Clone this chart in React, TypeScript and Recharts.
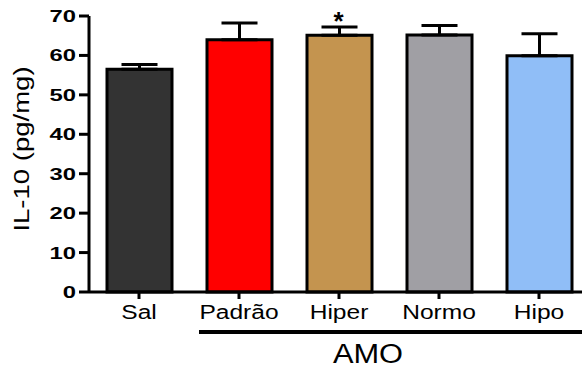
import { Bar, BarChart, Cell, ErrorBar, LabelList, XAxis, YAxis } from 'recharts';

const categories = ['Sal', 'Padrão', 'Hiper', 'Normo', 'Hipo'];
const means = [56.5, 64.0, 65.1, 65.2, 59.9];
const semUpper = [1.2, 4.2, 2.1, 2.4, 5.6];
const marks = ['', '', '*', '', ''];
const colors = ['#333333', '#ff0000', '#c4944f', '#a09fa4', '#90bef7'];
const yTicks = [0, 10, 20, 30, 40, 50, 60, 70];
const groupLabel = 'AMO';
const yLabel = 'IL-10 (pg/mg)';

const FONT = '"Liberation Sans", Arial, sans-serif';

const data = categories.map((name, i) => ({
  name,
  idx: i,
  mean: means[i],
  err: [0, semUpper[i]],
}));

function YTick(props: any) {
  const { x, y, payload } = props;
  return (
    <text
      transform={`translate(${x},${y + 6}) scale(1.4,1)`}
      textAnchor="end"
      fontSize={17}
      fontWeight="bold"
      fontFamily={FONT}
      fill="#000"
    >
      {payload.value}
    </text>
  );
}

function XTick(props: any) {
  const { x, payload } = props;
  return (
    <text
      transform={`translate(${x},319) scale(1.17,1)`}
      textAnchor="middle"
      fontSize={21}
      fontFamily={FONT}
      fill="#000"
    >
      {payload.value}
    </text>
  );
}

function YLabel() {
  return (
    <text
      transform="translate(28.5,149) rotate(-90) scale(1.28,1)"
      textAnchor="middle"
      fontSize={21.5}
      fontFamily={FONT}
      fill="#000"
    >
      {yLabel}
    </text>
  );
}

function GroupLabel(props: any) {
  const { viewBox } = props;
  if (!viewBox) return null;
  const band = viewBox.width / categories.length;
  const x1 = viewBox.x + band + 10;
  const x2 = viewBox.x + viewBox.width;
  return (
    <g>
      <line x1={x1} x2={x2} y1={332} y2={332} stroke="#000" strokeWidth={4} />
      <text
        transform={`translate(${viewBox.x + band * 2.79},363) scale(1.1,1)`}
        textAnchor="middle"
        fontSize={28}
        fontFamily={FONT}
        fill="#000"
      >
        {groupLabel}
      </text>
    </g>
  );
}

function MarkLabel(props: any) {
  const { x, y, width, height, value } = props;
  const i = Number(value);
  if (!marks[i]) return null;
  const capY = y - (semUpper[i] * height) / means[i];
  return (
    <text
      x={x + width / 2 - 1}
      y={capY + 3}
      textAnchor="middle"
      fontSize={26}
      fontWeight="bold"
      fontFamily={FONT}
      fill="#000"
    >
      {marks[i]}
    </text>
  );
}

export default function App() {
  return (
    <div
      style={{
        position: 'absolute',
        left: 0,
        top: 0,
        width: 582,
        height: 367,
        overflow: 'hidden',
        background: '#fff',
      }}
    >
      <BarChart
        width={589}
        height={367}
        data={data}
        margin={{ top: 16, right: 0, left: 0, bottom: 0 }}
        barCategoryGap={0}
      >
        <YAxis
          width={89}
          domain={[0, 70]}
          ticks={yTicks}
          interval={0}
          tickSize={10}
          tickMargin={3}
          tick={<YTick />}
          tickLine={{ stroke: '#000', strokeWidth: 3 }}
          axisLine={{ stroke: '#000', strokeWidth: 3 }}
          label={<YLabel />}
        />
        <XAxis
          dataKey="name"
          height={75}
          interval={0}
          tickSize={7}
          tick={<XTick />}
          tickLine={{ stroke: '#000', strokeWidth: 3 }}
          axisLine={{ stroke: '#000', strokeWidth: 3 }}
          label={<GroupLabel />}
        />
        <Bar
          dataKey="mean"
          barSize={65}
          stroke="#000"
          strokeWidth={3}
          isAnimationActive={false}
        >
          {colors.map((c, i) => (
            <Cell key={i} fill={c} />
          ))}
          <ErrorBar
            dataKey="err"
            direction="y"
            width={18}
            stroke="#000"
            strokeWidth={3}
            isAnimationActive={false}
          />
          <LabelList dataKey="idx" content={<MarkLabel />} />
        </Bar>
      </BarChart>
    </div>
  );
}
